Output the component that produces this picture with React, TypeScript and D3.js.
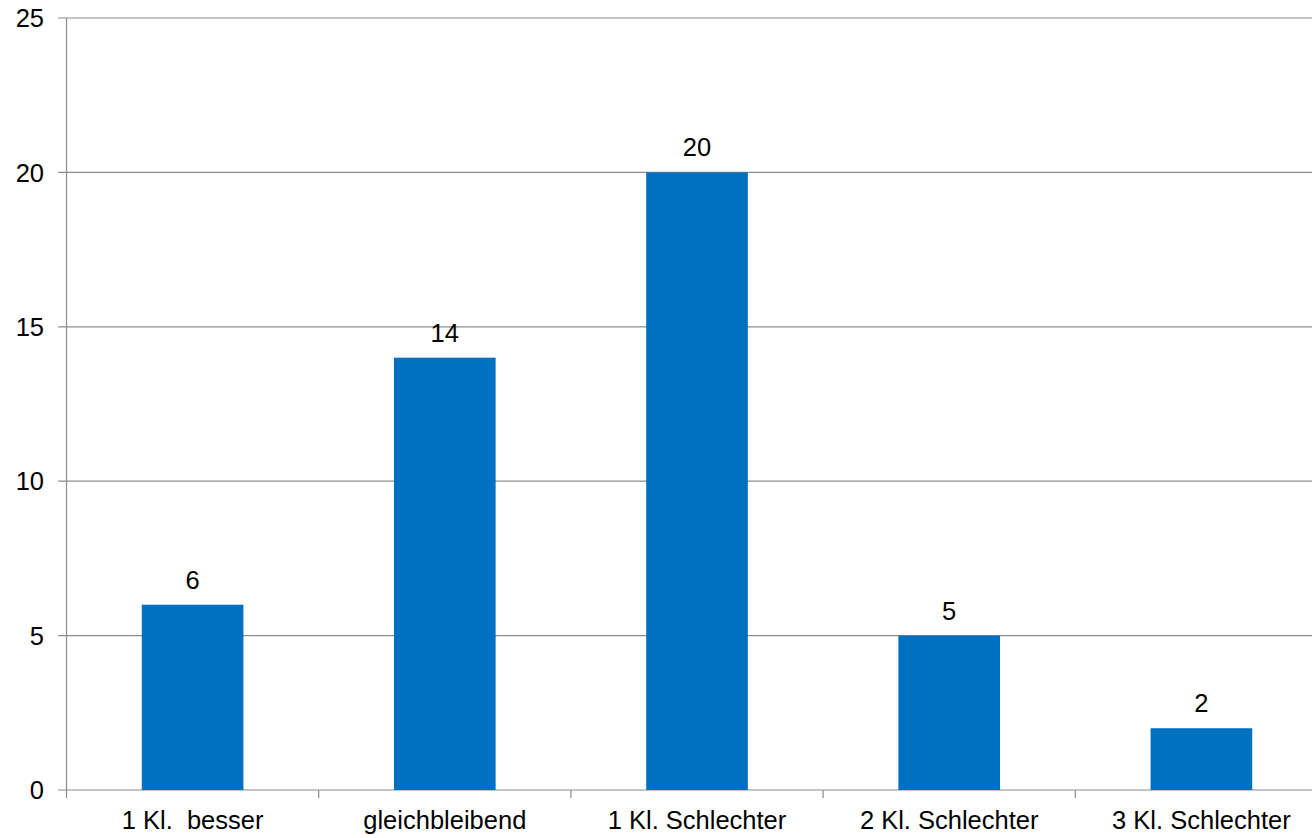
import React from "react";
import * as d3 from "d3";

const categories = ["1 Kl.  besser", "gleichbleibend", "1 Kl. Schlechter", "2 Kl. Schlechter", "3 Kl. Schlechter"];
const values = [6, 14, 20, 5, 2];
const yTicks = [0, 5, 10, 15, 20, 25];

const W = 1312;
const H = 838;
const left = 66.5;
const bandW = 252.2;
const right = left + bandW * categories.length;
const top = 18;
const bottom = 790;
const font = "'Liberation Sans', Arial, sans-serif";
const gridColor = "#8c8c8c";
const fs = 25.5;

export default function App() {
  const x = d3.scaleBand<string>().domain(categories).range([left, right]).paddingInner(0.597).paddingOuter(0.2985);
  const xb = d3.scaleBand<string>().domain(categories).range([left, right]);
  const y = d3.scaleLinear().domain([0, 25]).range([bottom, top]);

  return (
    <svg width={W} height={H} style={{ position: "absolute", left: 0, top: 0, background: "#fff" }}>
      {yTicks.map((t) => (
        <g key={t}>
          <line x1={58} x2={right} y1={y(t)} y2={y(t)} stroke={gridColor} strokeWidth={1.2} />
          <text x={44} y={y(t)} dy="0.36em" textAnchor="end" fontFamily={font} fontSize={fs} fill="#000">
            {t}
          </text>
        </g>
      ))}
      <line x1={left} x2={left} y1={top} y2={bottom + 8} stroke={gridColor} strokeWidth={1.2} />
      {categories.map((c, i) => (
        <line key={"t" + i} x1={xb(c)! + bandW} x2={xb(c)! + bandW} y1={bottom} y2={bottom + 8} stroke={gridColor} strokeWidth={1.2} />
      ))}
      {categories.map((c, i) => (
        <g key={c}>
          <rect x={x(c)} y={y(values[i])} width={x.bandwidth()} height={bottom - y(values[i])} fill="#0070C0" />
          <text x={x(c)! + x.bandwidth() / 2} y={y(values[i]) - 16} textAnchor="middle" fontFamily={font} fontSize={fs} fill="#000">
            {values[i]}
          </text>
          <text x={xb(c)! + bandW / 2} y={829} textAnchor="middle" fontFamily={font} fontSize={fs} fill="#000" style={{ whiteSpace: "pre" }}>
            {c}
          </text>
        </g>
      ))}
    </svg>
  );
}
